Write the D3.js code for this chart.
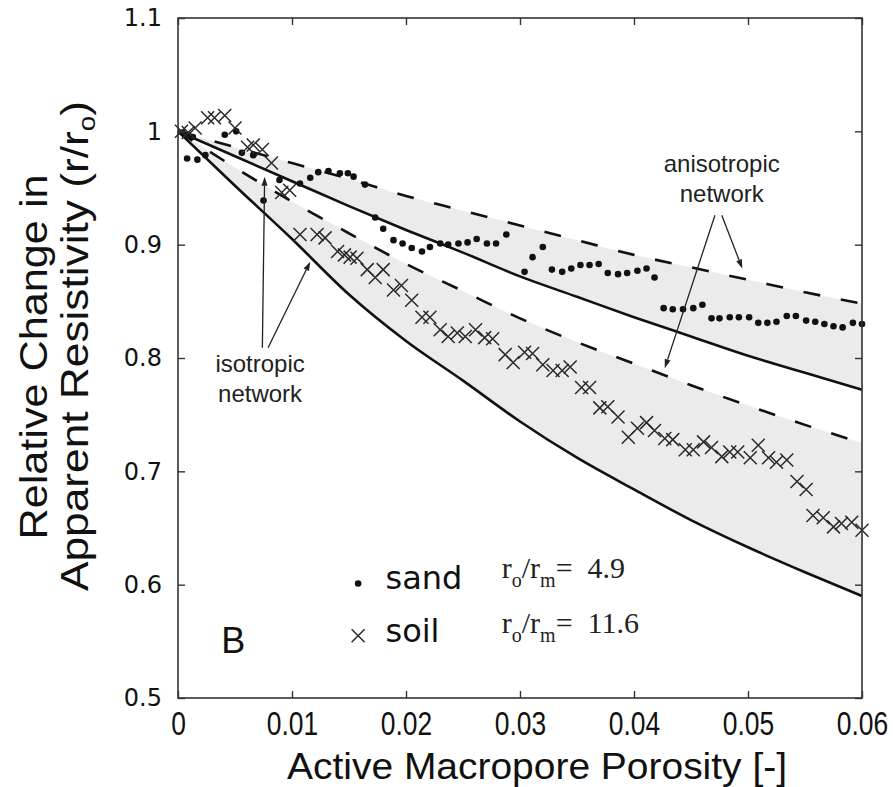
<!DOCTYPE html>
<html><head><meta charset="utf-8">
<script src="https://cdn.jsdelivr.net/npm/d3@7"></script>
<style>
html,body{margin:0;padding:0;background:#fff;}
svg{display:block;}
</style></head>
<body>
<svg id="chart" width="893" height="787"></svg>
<script>
// ---------- data ----------
const xTicks = [0, 0.01, 0.02, 0.03, 0.04, 0.05, 0.06];
const xTickLabels = ["0", "0.01", "0.02", "0.03", "0.04", "0.05", "0.06"];
const yTicks = [0.5, 0.6, 0.7, 0.8, 0.9, 1.0, 1.1];
const yTickLabels = ["0.5", "0.6", "0.7", "0.8", "0.9", "1", "1.1"];

// model curves (porosity grid)
const curveX      = [0, 0.005, 0.01, 0.015, 0.02, 0.025, 0.03, 0.035, 0.04, 0.045, 0.05, 0.055, 0.06];
const sandAnisoY  = [1.0, 0.986, 0.972, 0.958, 0.943, 0.930, 0.917, 0.904, 0.891, 0.880, 0.869, 0.858, 0.848];
const sandIsoY    = [1.0, 0.978, 0.956, 0.934, 0.913, 0.893, 0.872, 0.854, 0.836, 0.819, 0.802, 0.787, 0.772];
const soilAnisoY  = [1.0, 0.968, 0.938, 0.910, 0.883, 0.859, 0.835, 0.814, 0.795, 0.776, 0.758, 0.741, 0.725];
const soilIsoY    = [1.0, 0.952, 0.905, 0.856, 0.815, 0.780, 0.744, 0.712, 0.684, 0.657, 0.633, 0.611, 0.590];

// measured: sand (dots)
const sandX = [0.0004,0.0009,0.0013,0.0008,0.0017,0.0024,0.0041,0.0051,0.0056,0.0066,0.0075,0.0089,0.0107,0.0116,0.0123,0.0132,0.0142,0.0149,0.0154,0.0164,0.0173,0.0180,0.0189,0.0197,0.0205,0.0214,0.0221,0.0230,0.0237,0.0246,0.0254,0.0262,0.0271,0.0279,0.0288,0.0304,0.0311,0.0320,0.0328,0.0337,0.0345,0.0353,0.0361,0.0369,0.0377,0.0386,0.0394,0.0403,0.0411,0.0418,0.0426,0.0434,0.0443,0.0452,0.0460,0.0468,0.0475,0.0484,0.0492,0.0501,0.0509,0.0517,0.0525,0.0534,0.0542,0.0551,0.0559,0.0567,0.0575,0.0583,0.0592,0.0600];
const sandY = [0.999,0.997,0.995,0.976,0.975,0.979,0.997,1.000,0.981,0.979,0.939,0.957,0.954,0.959,0.964,0.965,0.963,0.963,0.960,0.953,0.924,0.914,0.904,0.901,0.897,0.894,0.898,0.901,0.900,0.901,0.902,0.905,0.901,0.901,0.909,0.876,0.889,0.898,0.878,0.876,0.879,0.882,0.882,0.883,0.875,0.874,0.875,0.877,0.879,0.871,0.844,0.843,0.843,0.844,0.847,0.835,0.835,0.836,0.836,0.836,0.831,0.831,0.832,0.837,0.837,0.833,0.832,0.830,0.828,0.827,0.831,0.830];

// measured: soil (crosses)
const soilX = [0.0003,0.0009,0.0015,0.0026,0.0032,0.0041,0.0050,0.0061,0.0066,0.0074,0.0082,0.0091,0.0098,0.0107,0.0122,0.0129,0.0140,0.0146,0.0151,0.0157,0.0166,0.0173,0.0180,0.0189,0.0196,0.0205,0.0214,0.0221,0.0230,0.0237,0.0245,0.0252,0.0261,0.0269,0.0276,0.0287,0.0294,0.0304,0.0311,0.0320,0.0329,0.0337,0.0344,0.0354,0.0361,0.0370,0.0377,0.0386,0.0395,0.0403,0.0411,0.0418,0.0427,0.0434,0.0445,0.0452,0.0461,0.0468,0.0477,0.0484,0.0491,0.0502,0.0509,0.0518,0.0525,0.0534,0.0543,0.0551,0.0557,0.0566,0.0575,0.0582,0.0591,0.0600];
const soilY = [1.000,0.999,1.003,1.012,1.012,1.014,1.003,0.986,0.988,0.984,0.972,0.946,0.948,0.909,0.909,0.906,0.894,0.891,0.889,0.888,0.878,0.871,0.878,0.860,0.864,0.851,0.836,0.836,0.825,0.819,0.822,0.819,0.825,0.818,0.817,0.803,0.796,0.805,0.804,0.794,0.789,0.789,0.792,0.774,0.774,0.756,0.757,0.748,0.730,0.738,0.743,0.736,0.729,0.728,0.719,0.719,0.726,0.721,0.713,0.717,0.717,0.712,0.723,0.712,0.708,0.710,0.691,0.684,0.661,0.659,0.651,0.654,0.655,0.648];

// ---------- layout ----------
const svg = d3.select("#chart");
const L = 178, R = 862, T = 18, B = 698;
const x = d3.scaleLinear().domain([0, 0.06]).range([L, R]);
const y = d3.scaleLinear().domain([0.5, 1.1]).range([B, T]);

const pts = ys => curveX.map((v, i) => [v, ys[i]]);
const lineGen = d3.line().x(d => x(d[0])).y(d => y(d[1])).curve(d3.curveMonotoneX);
const areaGen = d3.area().x(d => x(d[0])).y0(d => y(d[1])).y1(d => y(d[2])).curve(d3.curveMonotoneX);

// shaded bands
const bandFill = "#ebebeb";
svg.append("path").attr("d", areaGen(curveX.map((v, i) => [v, sandAnisoY[i], sandIsoY[i]])))
  .attr("fill", bandFill);
svg.append("path").attr("d", areaGen(curveX.map((v, i) => [v, soilAnisoY[i], soilIsoY[i]])))
  .attr("fill", bandFill);

// curves
[[sandAnisoY, true], [sandIsoY, false], [soilAnisoY, true], [soilIsoY, false]].forEach(([ys, dashed]) => {
  svg.append("path").attr("d", lineGen(pts(ys)))
    .attr("fill", "none").attr("stroke", "#111").attr("stroke-width", 2.6)
    .attr("stroke-dasharray", dashed ? "17,21" : null);
});

// markers
svg.append("g").selectAll("circle").data(sandX.map((v, i) => [v, sandY[i]])).join("circle")
  .attr("cx", d => x(d[0])).attr("cy", d => y(d[1])).attr("r", 3.3).attr("fill", "#111");
const crossPath = "M-6.5,-6.5L6.5,6.5M-6.5,6.5L6.5,-6.5";
svg.append("g").selectAll("path").data(soilX.map((v, i) => [v, soilY[i]])).join("path")
  .attr("transform", d => `translate(${x(d[0])},${y(d[1])})`)
  .attr("d", crossPath).attr("fill", "none").attr("stroke", "#2a2a2a").attr("stroke-width", 1.5);

// axes
const tickLen = 7;
const gx = svg.append("g").attr("transform", `translate(0,${B})`)
  .call(d3.axisBottom(x).tickValues(xTicks).tickFormat((d, i) => xTickLabels[i]).tickSize(-tickLen).tickSizeOuter(0).tickPadding(14));
const gy = svg.append("g").attr("transform", `translate(${L},0)`)
  .call(d3.axisLeft(y).tickValues(yTicks).tickFormat((d, i) => yTickLabels[i]).tickSize(-tickLen).tickSizeOuter(0).tickPadding(16));
const gt = svg.append("g").attr("transform", `translate(0,${T})`)
  .call(d3.axisTop(x).tickValues(xTicks).tickFormat("").tickSize(-tickLen).tickSizeOuter(0));
const gr = svg.append("g").attr("transform", `translate(${R},0)`)
  .call(d3.axisRight(y).tickValues(yTicks).tickFormat("").tickSize(-tickLen).tickSizeOuter(0));
[gx, gy, gt, gr].forEach(g => {
  g.select(".domain").remove();
  g.selectAll(".tick line").attr("stroke", "#333").attr("stroke-width", 1.4);
});
gx.selectAll(".tick text").attr("font-family", "Liberation Sans, Arial, sans-serif")
  .attr("font-size", 33).attr("fill", "#111").attr("transform", "scale(0.8,1)");
gy.selectAll(".tick text").attr("font-family", "DejaVu Sans, Verdana, sans-serif")
  .attr("font-size", 24).attr("fill", "#111");

// frame
svg.append("rect").attr("x", L).attr("y", T).attr("width", R - L).attr("height", B - T)
  .attr("fill", "none").attr("stroke", "#333").attr("stroke-width", 1.6);

// axis titles
svg.append("text").attr("x", 537).attr("y", 779).attr("text-anchor", "middle")
  .attr("font-family", "Liberation Sans, Arial, sans-serif").attr("font-size", 36).attr("fill", "#111")
  .attr("textLength", 500).attr("lengthAdjust", "spacingAndGlyphs")
  .text("Active Macropore Porosity [-]");

const yl = svg.append("g").attr("font-family", "Liberation Sans, Arial, sans-serif")
  .attr("font-size", 38).attr("fill", "#111");
yl.append("text").attr("transform", "translate(47,357) rotate(-90)").attr("text-anchor", "middle")
  .attr("textLength", 365).attr("lengthAdjust", "spacingAndGlyphs")
  .text("Relative Change in");
const yl2 = yl.append("text").attr("transform", "translate(88,346) rotate(-90)").attr("text-anchor", "middle")
  .attr("textLength", 490).attr("lengthAdjust", "spacingAndGlyphs");
yl2.append("tspan").text("Apparent Resistivity (r/r");
yl2.append("tspan").attr("font-size", 24).attr("dy", 7).text("o");
yl2.append("tspan").attr("dy", -7).text(")");

// annotations
const ann = svg.append("g").attr("font-family", "Liberation Sans, Arial, sans-serif")
  .attr("font-size", 24).attr("fill", "#222").attr("text-anchor", "middle");
ann.append("text").attr("x", x(0.0477)).attr("y", y(0.964)).text("anisotropic");
ann.append("text").attr("x", x(0.0477)).attr("y", y(0.938)).text("network");
ann.append("text").attr("x", x(0.0072)).attr("y", y(0.788)).text("isotropic");
ann.append("text").attr("x", x(0.0072)).attr("y", y(0.761)).text("network");

const arrows = [
  [[0.0477, 0.926], [0.0495, 0.879]],
  [[0.0471, 0.926], [0.0427, 0.791]],
  [[0.0074, 0.809], [0.0076, 0.960]],
  [[0.0079, 0.809], [0.0116, 0.885]]
];
arrows.forEach(([a, b]) => {
  const x1 = x(a[0]), y1 = y(a[1]), x2 = x(b[0]), y2 = y(b[1]);
  const ang = Math.atan2(y2 - y1, x2 - x1);
  const len = 9, w = 3;
  const bx = x2 - len * Math.cos(ang), by = y2 - len * Math.sin(ang);
  svg.append("line").attr("x1", x1).attr("y1", y1).attr("x2", bx).attr("y2", by)
    .attr("stroke", "#222").attr("stroke-width", 1.3);
  const px = -Math.sin(ang) * w, py = Math.cos(ang) * w;
  svg.append("path").attr("d", `M${x2},${y2}L${bx + px},${by + py}L${bx - px},${by - py}Z`)
    .attr("fill", "#222");
});

// legend
const leg = svg.append("g");
leg.append("circle").attr("cx", x(0.0158)).attr("cy", y(0.601)).attr("r", 3.3).attr("fill", "#111");
leg.append("path").attr("transform", `translate(${x(0.0158)},${y(0.555)})`).attr("d", crossPath)
  .attr("fill", "none").attr("stroke", "#2a2a2a").attr("stroke-width", 1.5);
leg.append("text").attr("x", x(0.0182)).attr("y", y(0.5965)).attr("font-family", "DejaVu Sans, sans-serif")
  .attr("font-size", 32).attr("fill", "#111").text("sand");
leg.append("text").attr("x", x(0.0182)).attr("y", y(0.5498)).attr("font-family", "DejaVu Sans, sans-serif")
  .attr("font-size", 32).attr("fill", "#111").text("soil");

function ratio(v, label) {
  const t = leg.append("text").attr("x", x(0.0284)).attr("y", y(v))
    .attr("font-family", "Liberation Serif, Times New Roman, serif").attr("font-size", 30).attr("fill", "#222");
  t.append("tspan").text("r");
  t.append("tspan").attr("font-size", 20).attr("dy", 9).text("o");
  t.append("tspan").attr("dy", -9).text("/r");
  t.append("tspan").attr("font-size", 20).attr("dy", 9).text("m");
  t.append("tspan").attr("dy", -9).text("=\u2002" + label);
}
ratio(0.606, "4.9");
ratio(0.5575, "11.6");

svg.append("text").attr("x", x(0.0038)).attr("y", y(0.540)).attr("font-family", "Liberation Sans, Arial, sans-serif")
  .attr("font-size", 36).attr("fill", "#111").text("B");
</script>
</body></html>
